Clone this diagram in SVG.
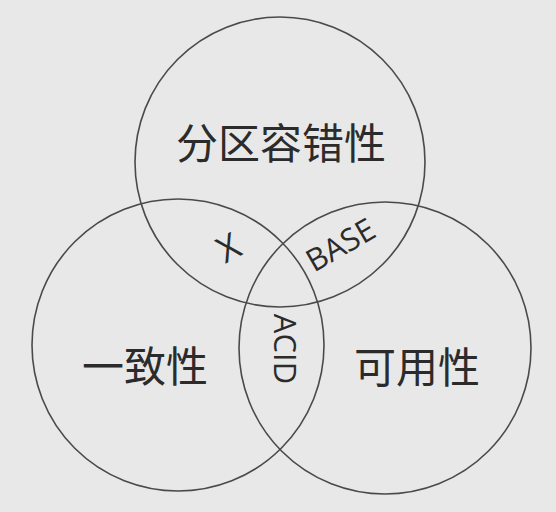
<svg xmlns="http://www.w3.org/2000/svg" width="556" height="512" viewBox="0 0 556 512">
<style>
.c{fill:none;stroke:#4a4a4a;stroke-width:1.6}
.cjk{font-family:"Noto Sans CJK SC","Noto Sans",sans-serif;font-size:42px;fill:#2b2b2b;text-anchor:middle;dominant-baseline:central}
.lat{font-family:"Open Sans","Noto Sans","Liberation Sans",sans-serif;font-size:31px;fill:#2b2b2b;text-anchor:middle;dominant-baseline:central}
</style>
<rect width="556" height="512" fill="#e8e8e8"/>
<g id="partition">
<circle class="c" cx="280" cy="162" r="145"/>
<text class="cjk" x="281" y="140">分区容错性</text>
</g>
<g id="consistency">
<circle class="c" cx="178" cy="345" r="146"/>
<text class="cjk" x="145" y="363">一致性</text>
</g>
<g id="availability">
<circle class="c" cx="385" cy="348" r="146"/>
<text class="cjk" x="417" y="364">可用性</text>
</g>
<g id="labels">
<text class="lat" style="font-size:36px" transform="translate(228,247) rotate(-28)">X</text>
<text class="lat" transform="translate(340,244) rotate(-30)">BASE</text>
<text class="lat" transform="translate(286,349) rotate(90)">ACID</text>
</g>
</svg>
